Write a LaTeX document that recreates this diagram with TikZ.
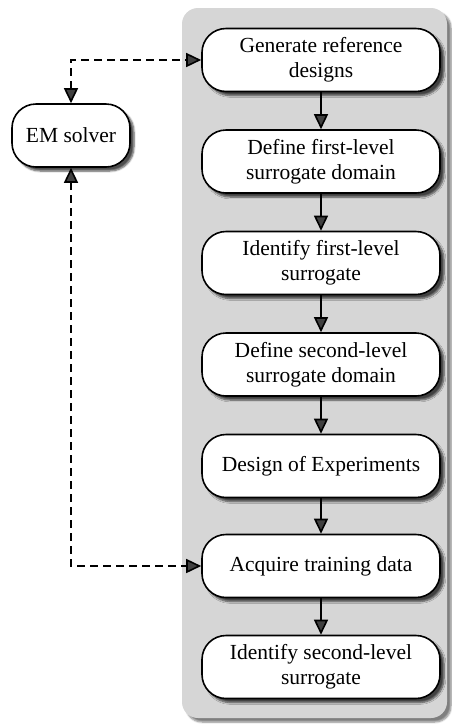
\documentclass[tikz,border=0pt]{standalone}
\usepackage{fontspec}
\setmainfont{Liberation Serif}
\usetikzlibrary{arrows.meta,shadows.blur}
\begin{document}
\begin{tikzpicture}[x=1pt,y=-1pt,
  stepbox/.style={draw=black,line width=1.6pt,fill=white,rounded corners=24pt,
    minimum width=238pt,minimum height=63pt,align=center,font=\fontsize{21.5}{25}\selectfont,
    blur shadow={shadow xshift=4pt,shadow yshift=-4pt,shadow blur steps=6,shadow opacity=70}},
  arr/.style={line width=1.6pt,-{Triangle[length=15pt,width=14pt]}},
  darr/.style={line width=1.6pt,dash pattern=on 8pt off 5pt,{Triangle[length=15pt,width=14pt]}-{Triangle[length=15pt,width=14pt]}}]
\useasboundingbox (0,0) rectangle (452,724);
\fill[gray!32,rounded corners=16pt,blur shadow={shadow xshift=4pt,shadow yshift=-4pt,shadow blur steps=6,shadow opacity=50}] (182,8) rectangle (447,718);
\node[stepbox] (b1) at (321,60) {Generate reference\\designs};
\node[stepbox] (b2) at (321,161.5) {Define first-level\\surrogate domain};
\node[stepbox] (b3) at (321,263) {Identify first-level\\surrogate};
\node[stepbox] (b4) at (321,364.5) {Define second-level\\surrogate domain};
\node[stepbox] (b5) at (321,466) {Design of Experiments};
\node[stepbox] (b6) at (321,566) {Acquire training data};
\node[stepbox] (b7) at (321,667) {Identify second-level\\surrogate};
\node[stepbox,minimum width=118pt] (em) at (71,135.5) {EM solver};
\draw[arr] (b1) -- (b2);
\draw[arr] (b2) -- (b3);
\draw[arr] (b3) -- (b4);
\draw[arr] (b4) -- (b5);
\draw[arr] (b5) -- (b6);
\draw[arr] (b6) -- (b7);
\draw[darr] (em.north) |- (b1.west);
\draw[darr] (em.south) |- (b6.west);
\end{tikzpicture}
\end{document}
